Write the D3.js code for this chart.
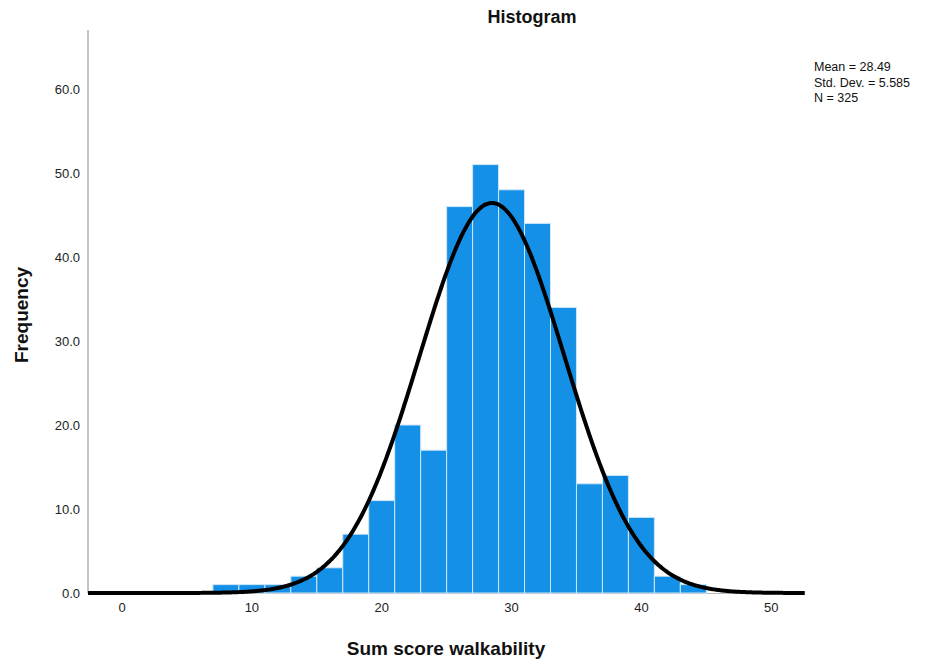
<!DOCTYPE html>
<html><head><meta charset="utf-8">
<script src="https://cdn.jsdelivr.net/npm/d3@7"></script>
<style>body{margin:0;background:#fff;} text{font-family:"Liberation Sans",Arial,sans-serif;}</style>
</head><body><svg id="c" width="929" height="661"></svg>
<script>
const binStarts = [7,9,11,13,15,17,19,21,23,25,27,29,31,33,35,37,39,41,43];
const binWidth = 2;
const frequencies = [1,1,1,2,3,7,11,20,17,46,51,48,44,34,13,14,9,2,1];
const xTicks = [0,10,20,30,40,50];
const yTicks = [0,10,20,30,40,50,60];
const stats = {mean:28.49, sd:5.585, n:325};
const legendLines = ["Mean = 28.49","Std. Dev. = 5.585","N = 325"];

const svg = d3.select("#c");
const x = d3.scaleLinear().domain([-2.62, 52.6]).range([88, 805]);
const y = d3.scaleLinear().domain([0, 60]).range([593, 89]);

// axes lines
svg.append("line").attr("x1",88).attr("x2",88).attr("y1",30).attr("y2",593).attr("stroke","#888").attr("stroke-width",1);
svg.append("line").attr("x1",88).attr("x2",805).attr("y1",593.5).attr("y2",593.5).attr("stroke","#bbb").attr("stroke-width",1);

// bars
svg.append("g").selectAll("rect").data(binStarts).join("rect")
  .attr("x", d => x(d))
  .attr("width", d => x(d+binWidth)-x(d))
  .attr("y", (d,i) => y(frequencies[i]))
  .attr("height", (d,i) => y(0)-y(frequencies[i]))
  .attr("fill","#1491e6")
  .attr("stroke","#cfe6f8").attr("stroke-width",1);

// normal curve
const xs = d3.range(-2.62, 52.61, 0.1);
const pdf = v => stats.n*binWidth/(stats.sd*Math.sqrt(2*Math.PI))*Math.exp(-0.5*Math.pow((v-stats.mean)/stats.sd,2));
svg.append("path").datum(xs)
  .attr("d", d3.line().x(d=>x(d)).y(d=>y(pdf(d))).curve(d3.curveBasis))
  .attr("fill","none").attr("stroke","#000").attr("stroke-width",4).attr("stroke-linejoin","round");

// tick labels
svg.append("g").selectAll("text").data(yTicks).join("text")
  .attr("x",80).attr("y",d=>y(d)+5).attr("text-anchor","end")
  .attr("font-size",13).attr("fill","#222").text(d=>d.toFixed(1));
svg.append("g").selectAll("text").data(xTicks).join("text")
  .attr("x",d=>x(d)).attr("y",612).attr("text-anchor","middle")
  .attr("font-size",13).attr("fill","#222").text(d=>d);

// titles
svg.append("text").attr("x",532).attr("y",23).attr("text-anchor","middle")
  .attr("font-size",18).attr("font-weight","bold").attr("fill","#111").text("Histogram");
svg.append("text").attr("x",446).attr("y",655).attr("text-anchor","middle")
  .attr("font-size",19).attr("font-weight","bold").attr("fill","#111").text("Sum score walkability");
svg.append("text").attr("transform","translate(28,315) rotate(-90)").attr("text-anchor","middle")
  .attr("font-size",19).attr("font-weight","bold").attr("fill","#111").text("Frequency");

// stats legend
svg.append("g").selectAll("text").data(legendLines).join("text")
  .attr("x",814).attr("y",(d,i)=>71+i*15.5).attr("font-size",12.5).attr("fill","#111").text(d=>d);
</script></body></html>
